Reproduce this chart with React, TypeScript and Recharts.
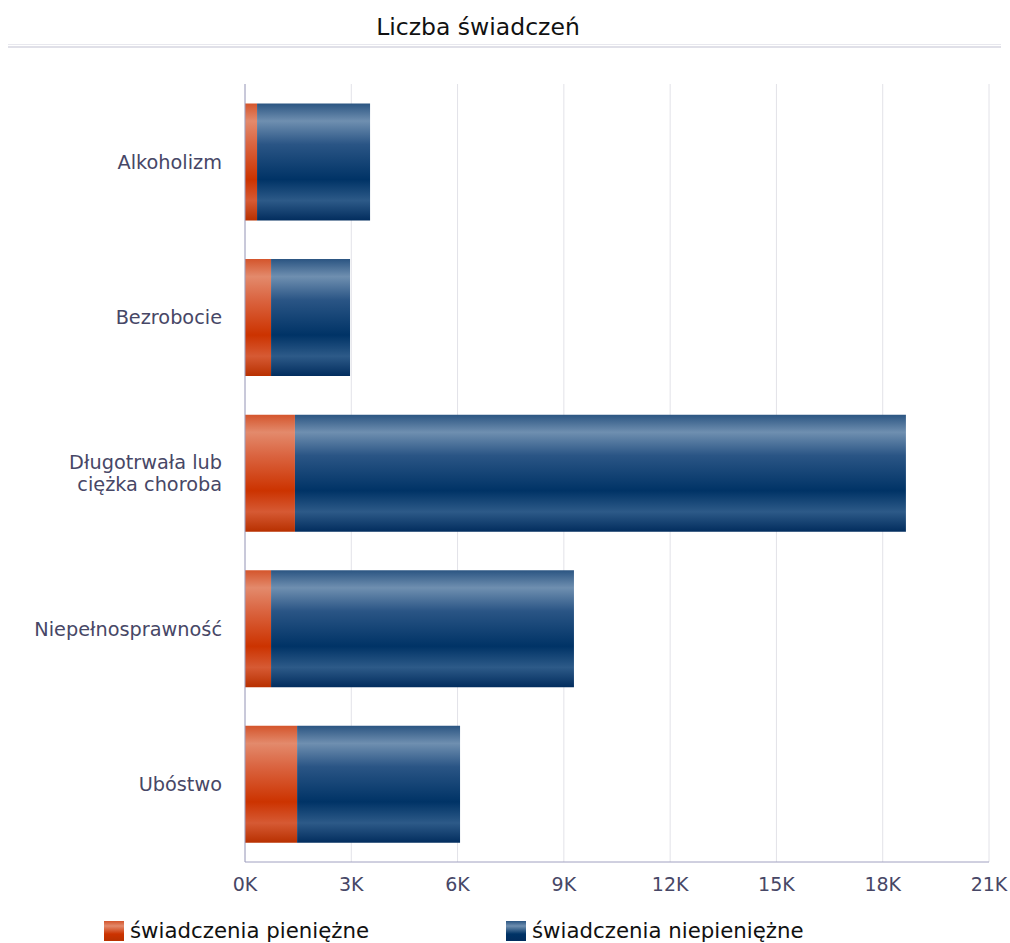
import { Bar, BarChart, CartesianGrid, XAxis, YAxis } from "recharts";

const categories = [
  "Alkoholizm",
  "Bezrobocie",
  "Długotrwała lub\nciężka choroba",
  "Niepełnosprawność",
  "Ubóstwo",
];
const pieniezne = [340, 735, 1410, 735, 1470];
const niepieniezne = [3190, 2230, 17245, 8550, 4600];
const xTicks = [0, 3000, 6000, 9000, 12000, 15000, 18000, 21000];

const FONT = "'DejaVu Sans', Verdana, sans-serif";
const LABEL = "#474766";

const data = categories.map((name, i) => ({
  name,
  pien: pieniezne[i],
  niepien: niepieniezne[i],
}));

// wiele linii w etykiecie kategorii
function CategoryTick(props: any) {
  const { x, y, payload } = props;
  const lines = String(payload.value).split("\n");
  const lh = 22;
  const start = y - ((lines.length - 1) * lh) / 2;
  return (
    <text x={x - 15} y={start} textAnchor="end" fill={LABEL} fontSize={19.3} fontFamily={FONT}>
      {lines.map((l, i) => (
        <tspan key={i} x={x - 15} y={start + i * lh} dy="0.36em">
          {l}
        </tspan>
      ))}
    </text>
  );
}

function Swatch({ id }: { id: string }) {
  return (
    <svg width={20} height={20} style={{ verticalAlign: "-3px", marginRight: 6 }}>
      <defs>
        {id === "o" ? (
          <linearGradient id="lgO" x1="0" y1="0" x2="0" y2="1">
            <stop offset="0%" stopColor="#d4552c" />
            <stop offset="25%" stopColor="#e38a6c" />
            <stop offset="65%" stopColor="#cc3300" />
            <stop offset="100%" stopColor="#b83000" />
          </linearGradient>
        ) : (
          <linearGradient id="lgB" x1="0" y1="0" x2="0" y2="1">
            <stop offset="0%" stopColor="#2b5582" />
            <stop offset="25%" stopColor="#6f8fb0" />
            <stop offset="65%" stopColor="#003366" />
            <stop offset="100%" stopColor="#022d5e" />
          </linearGradient>
        )}
      </defs>
      <rect width={20} height={20} fill={id === "o" ? "url(#lgO)" : "url(#lgB)"} />
    </svg>
  );
}

export default function App() {
  return (
    <div style={{ position: "absolute", left: 0, top: 0, width: 1010, height: 943, fontFamily: FONT, background: "#fff" }}>
      <div style={{ position: "absolute", left: 0, top: 13, width: 956, textAlign: "center", fontSize: 23.5, color: "#111" }}>
        Liczba świadczeń
      </div>
      <div style={{ position: "absolute", left: 8, top: 44, width: 993, height: 1, background: "#e8e8ee" }} />
      <div style={{ position: "absolute", left: 8, top: 46, width: 993, height: 2, background: "#e0e0e8" }} />

      <div style={{ position: "absolute", left: 0, top: 0 }}>
        <BarChart
          width={1010}
          height={943}
          data={data}
          layout="vertical"
          barCategoryGap="12.5%"
          margin={{ top: 84, right: 21, left: 0, bottom: 41 }}
        >
          <defs>
            <linearGradient id="gradOrange" x1="0" y1="0" x2="0" y2="1">
              <stop offset="0%" stopColor="#d4552c" />
              <stop offset="15%" stopColor="#e38a6c" />
              <stop offset="35%" stopColor="#da6440" />
              <stop offset="65%" stopColor="#cc3300" />
              <stop offset="83%" stopColor="#d65a34" />
              <stop offset="100%" stopColor="#b83000" />
            </linearGradient>
            <linearGradient id="gradBlue" x1="0" y1="0" x2="0" y2="1">
              <stop offset="0%" stopColor="#2b5582" />
              <stop offset="15%" stopColor="#6f8fb0" />
              <stop offset="35%" stopColor="#2a5585" />
              <stop offset="65%" stopColor="#003366" />
              <stop offset="83%" stopColor="#2d5a88" />
              <stop offset="100%" stopColor="#022d5e" />
            </linearGradient>
          </defs>
          <CartesianGrid horizontal={false} stroke="#e2e2e8" />
          <XAxis
            type="number"
            domain={[0, 21000]}
            ticks={xTicks}
            interval={0}
            tickFormatter={(v) => `${v / 1000}K`}
            axisLine={{ stroke: "#a0a0c0" }}
            tickLine={false}
            height={40}
            tick={{ fill: LABEL, fontSize: 19, fontFamily: FONT, dy: 8 }}
          />
          <YAxis
            type="category"
            dataKey="name"
            width={245}
            axisLine={{ stroke: "#a0a0c0" }}
            tickLine={false}
            interval={0}
            tick={<CategoryTick />}
          />
          <Bar dataKey="pien" stackId="a" fill="url(#gradOrange)" isAnimationActive={false} />
          <Bar dataKey="niepien" stackId="a" fill="url(#gradBlue)" isAnimationActive={false} />
        </BarChart>
      </div>

      <div style={{ position: "absolute", left: 104, top: 918, fontSize: 21.3, color: "#111", whiteSpace: "nowrap" }}>
        <Swatch id="o" />
        świadczenia pieniężne
      </div>
      <div style={{ position: "absolute", left: 506, top: 918, fontSize: 21.3, color: "#111", whiteSpace: "nowrap" }}>
        <Swatch id="b" />
        świadczenia niepieniężne
      </div>
    </div>
  );
}
